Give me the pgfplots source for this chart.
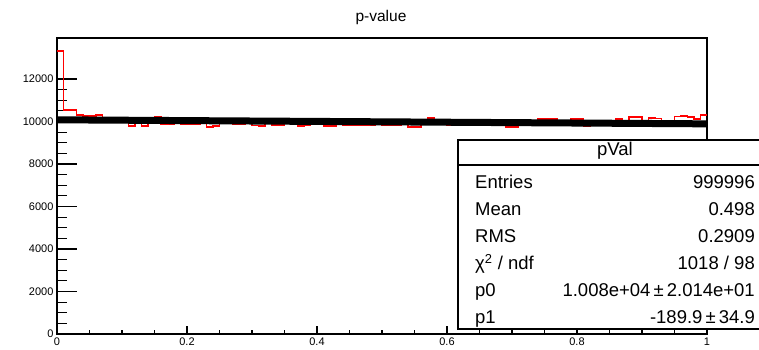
\documentclass[border=0pt]{standalone}
\usepackage{fontspec}
\setmainfont{Liberation Sans}
\usepackage{pgfplots}
\pgfplotsset{compat=1.18}
\usepackage{pgfplotstable}
\pgfplotstableread{
x y
0.00 13300
0.01 10550
0.02 10560
0.03 10300
0.04 10270
0.05 10250
0.06 10300
0.07 10120
0.08 10080
0.09 10100
0.10 10050
0.11 9780
0.12 10020
0.13 9790
0.14 10060
0.15 10200
0.16 9880
0.17 9890
0.18 10040
0.19 9880
0.20 9890
0.21 9880
0.22 10050
0.23 9760
0.24 9770
0.25 10030
0.26 10060
0.27 9870
0.28 9880
0.29 10040
0.30 9810
0.31 9800
0.32 10020
0.33 9830
0.34 9840
0.35 10050
0.36 10010
0.37 9800
0.38 9810
0.39 10040
0.40 10030
0.41 9790
0.42 9800
0.43 10000
0.44 9830
0.45 9840
0.46 9830
0.47 9850
0.48 9840
0.49 10010
0.50 9820
0.51 9830
0.52 9820
0.53 10000
0.54 9750
0.55 9760
0.56 10000
0.57 10150
0.58 10030
0.59 9990
0.60 9820
0.61 9830
0.62 9850
0.63 9860
0.64 10000
0.65 9980
0.66 9830
0.67 9840
0.68 10000
0.69 9750
0.70 9760
0.71 9990
0.72 10000
0.73 9980
0.74 10120
0.75 10130
0.76 10110
0.77 9980
0.78 9990
0.79 10100
0.80 10110
0.81 9800
0.82 9960
0.83 9990
0.84 9970
0.85 9980
0.86 10100
0.87 10000
0.88 10230
0.89 10220
0.90 10000
0.91 10150
0.92 10140
0.93 9990
0.94 10020
0.95 10240
0.96 10250
0.97 10230
0.98 10100
0.99 10300
1.00 10300
}\histdata
\begin{document}
\begin{tikzpicture}
\path[use as bounding box] (0,0) rectangle (759pt,350pt);
\begin{axis}[
  at={(57pt,16pt)}, anchor=south west,
  scale only axis, width=650pt, height=296pt,
  xmin=0, xmax=1, ymin=0, ymax=13930,
  axis line style={line width=1.6pt},
  tick align=inside,
  xtick={0,0.2,0.4,0.6,0.8,1},
  ytick={0,2000,4000,6000,8000,10000,12000},
  minor x tick num=3, minor y tick num=3,
  xtick pos=bottom, ytick pos=left,
  x tick style={/pgfplots/major tick length=8pt,/pgfplots/minor tick length=4pt},
  y tick style={/pgfplots/major tick length=20pt,/pgfplots/minor tick length=10pt},
  major tick style={line width=1.3pt, black},
  minor tick style={line width=1.1pt, black},
  ticklabel style={font=\fontsize{11}{13}\selectfont},
  /pgf/number format/assume math mode=true,
  /pgf/number format/1000 sep={},
  scaled y ticks=false,
]
\addplot[const plot, red, line width=1.8pt] table[x=x,y=y] {\histdata};
\addplot[black, line width=7pt] coordinates {(0,10080) (1,9890.1)};
\end{axis}
\node[font=\fontsize{15.5}{17}\selectfont] at (381pt,333pt) {p-value};
\begin{scope}[font=\fontsize{18.5}{20}\selectfont]
\draw[line width=1.6pt, fill=white] (458pt,21pt) rectangle (764pt,210pt);
\draw[line width=1.6pt] (458pt,185pt) -- (764pt,185pt);
\node at (615pt,199.5pt) {pVal};
\foreach \lab/\val/\yy in {Entries/999996/161.4, Mean/0.498/134.4, RMS/0.2909/107.4, {χ\textsuperscript{2} / ndf}/{1018 / 98}/80.4, p0/{1.008e+04\,±\,2.014e+01}/53.4, p1/{-189.9\,±\,34.9}/26.4}{
  \node[anchor=base west, inner sep=0pt] at (475pt,\yy pt) {\lab};
  \node[anchor=base east, inner sep=0pt] at (755pt,\yy pt) {\val};
}
\end{scope}
\end{tikzpicture}
\end{document}
